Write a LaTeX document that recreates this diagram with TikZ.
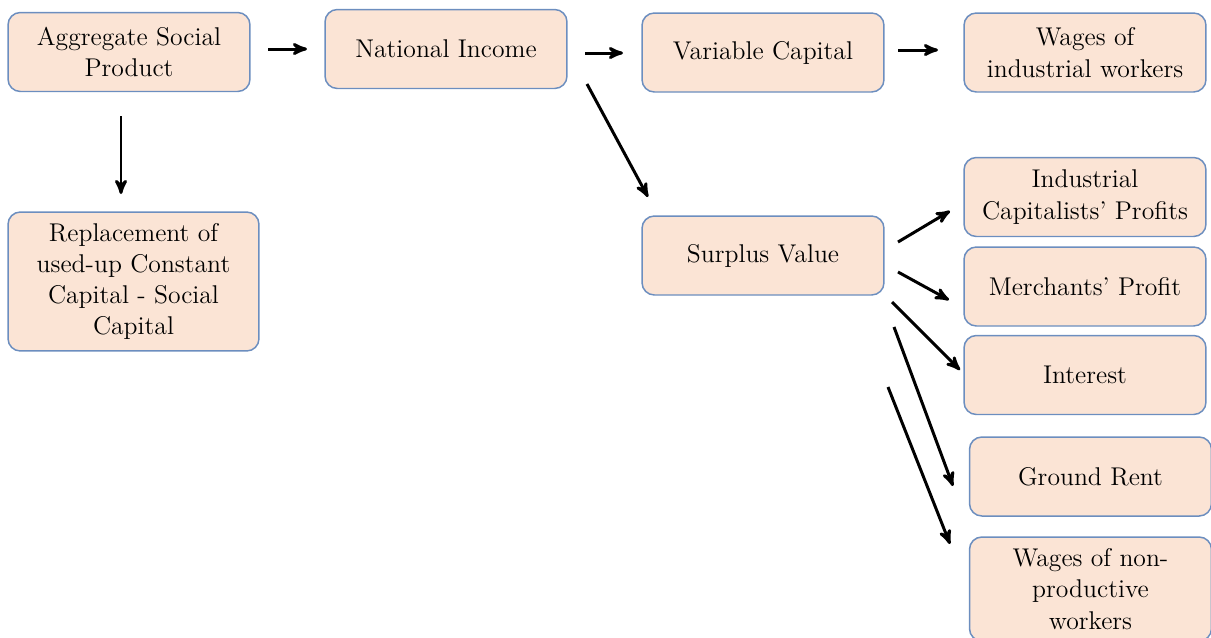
\documentclass[tikz,border=0pt]{standalone}
\usepackage{tikz}
\usetikzlibrary{arrows}
\definecolor{stagefill}{RGB}{251,228,213}
\definecolor{stageline}{RGB}{108,142,191}
\newcommand\defaultarrowstyle{stealth'}
\tikzset{>=\defaultarrowstyle}
\newcommand\linewd{1.7pt}
\tikzset{
  stage/.style={draw=stageline, fill=stagefill, line width=.85pt,
    rounded corners=7pt, align=center, inner sep=2pt,
    minimum width=4.84cm, minimum height=1.58cm,
    font=\fontsize{14.6}{17.8}\selectfont},
  flow/.style={line width=\linewd}
}

\begin{document}
\begin{tikzpicture}[x=0.02cm, y=-0.02cm]
  \tikzstyle{every node}=[stage]
  \useasboundingbox (0,0) rectangle (1211,637);
  \draw (129,52) node (asp) {Aggregate Social\\Product};
  \draw (446,49) node (ni) {National Income};
  \draw (763,52.5) node (vc) {Variable Capital};
  \draw (1085,52.5) node (wiw) {Wages of\\industrial workers};
  \draw (133.5,281.5) node[minimum width=5.02cm, minimum height=2.78cm] (rep)
    {Replacement of\\used-up Constant\\Capital - Social\\Capital};
  \draw (763,255.5) node (sv) {Surplus Value};
  \draw (1085,197) node (icp) {Industrial\\Capitalists' Profits};
  \draw (1085,286.5) node (mp) {Merchants' Profit};
  \draw (1085,375) node (int) {Interest};
  \draw (1090.5,476.5) node (gr) {Ground Rent};
  \draw (1090.5,589) node[minimum height=2.08cm] (wnp)
    {Wages of non-\\productive\\workers};
  % arrow ends
  \coordinate (asp out) at (268,49);
  \coordinate (ni in) at (307,49);
  \coordinate (ni out) at (585,53);
  \coordinate (vc in) at (623,53);
  \coordinate (vc out) at (898,50);
  \coordinate (wiw in) at (938,50);
  \coordinate (asp down) at (121,116);
  \coordinate (rep in) at (121,194);
  \coordinate (ni down) at (587,84);
  \coordinate (sv in) at (648,197);
  \coordinate (sv out1) at (898,242);
  \coordinate (icp in) at (950,211);
  \coordinate (sv out2) at (898,272);
  \coordinate (mp in) at (949,300);
  \coordinate (sv out3) at (892,302);
  \coordinate (int in) at (960,370);
  \coordinate (sv out4) at (894,327);
  \coordinate (gr in) at (953,486);
  \coordinate (sv out5) at (888,387);
  \coordinate (wnp in) at (950,544);
  \draw (asp out) -- (ni in) [flow, ->];
  \draw (ni out) -- (vc in) [flow, ->];
  \draw (vc out) -- (wiw in) [flow, ->];
  \draw (asp down) -- (rep in) [flow, ->];
  \draw (ni down) -- (sv in) [flow, ->];
  \draw (sv out1) -- (icp in) [flow, ->];
  \draw (sv out2) -- (mp in) [flow, ->];
  \draw (sv out3) -- (int in) [flow, ->];
  \draw (sv out4) -- (gr in) [flow, ->];
  \draw (sv out5) -- (wnp in) [flow, ->];
\end{tikzpicture}
\end{document}
